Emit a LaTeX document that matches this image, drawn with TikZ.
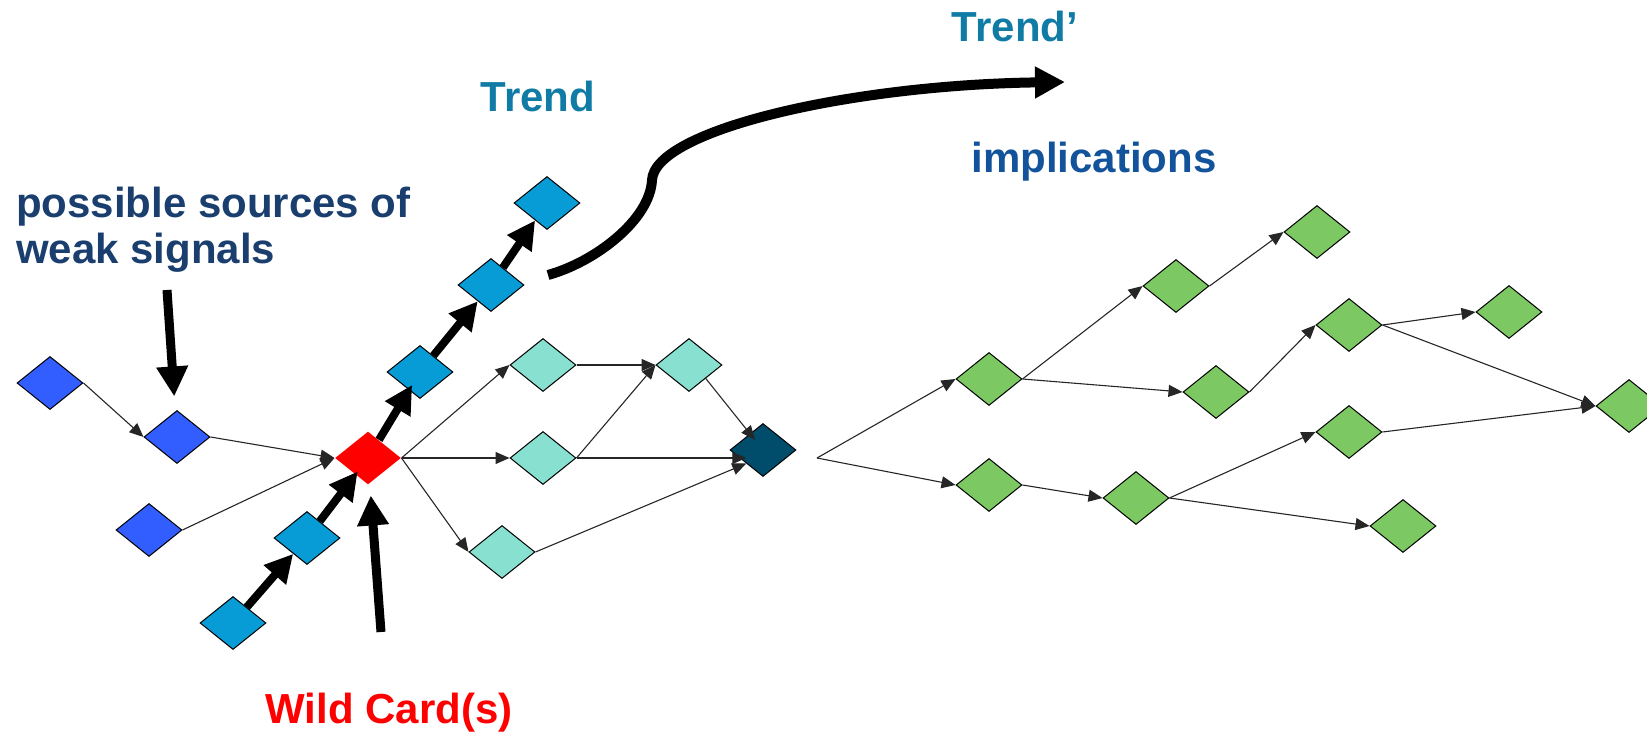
\documentclass[tikz,border=0pt]{standalone}
\usepackage{fontspec}
\setmainfont{Liberation Sans}
\usepackage{tikz}
\usetikzlibrary{calc}
\usetikzlibrary{arrows.meta}
\usetikzlibrary{shapes.geometric}
\definecolor{srcblue}{RGB}{51,94,255}
\definecolor{trendblue}{RGB}{8,156,214}
\definecolor{conseq}{RGB}{136,224,208}
\definecolor{darkend}{RGB}{0,77,107}
\definecolor{implgreen}{RGB}{124,200,98}
\definecolor{trendtext}{RGB}{16,124,166}
\definecolor{impltext}{RGB}{19,83,155}
\definecolor{srctext}{RGB}{26,63,111}
\tikzset{dia/.style={diamond,draw=black,line width=1pt,minimum width=66pt,minimum height=53pt,inner sep=0pt}}

\begin{document}
\begin{tikzpicture}[x=1pt,y=-1pt]
\tikzset{lnk/.style={draw=black!85,line width=1.1pt,-{Triangle[length=14pt,width=12pt]}}}
\tikzset{fat/.style={line width=8pt,-{Triangle[length=28pt,width=28pt]}}}
\tikzset{big/.style={line width=9pt,-{Triangle[length=30pt,width=30pt]}}}
\tikzset{lbl/.style={font=\fontsize{42}{46}\selectfont\bfseries,inner sep=0pt,anchor=base}}
\useasboundingbox (0,0) rectangle (1647,735);

% weak signal sources
\node[dia, fill=srcblue] (s1) at (50,383) {};
\node[dia, fill=srcblue] (s2) at (177,437) {};
\node[dia, fill=srcblue] (s3) at (149,530) {};

% wild card
\node[dia, fill=red, draw=none] (w) at (368,458) {};

% trend
\node[dia, fill=trendblue] (tr1) at (233,623) {};
\node[dia, fill=trendblue] (tr2) at (307,538) {};
\node[dia, fill=trendblue] (tr3) at (420,372) {};
\node[dia, fill=trendblue] (tr4) at (491,285) {};
\node[dia, fill=trendblue] (tr5) at (547,203) {};

% consequences
\node[dia, fill=conseq] (n1) at (543,365) {};
\node[dia, fill=conseq] (n2) at (689,365) {};
\node[dia, fill=conseq] (n3) at (543,458) {};
\node[dia, fill=conseq] (n4) at (502,552) {};
\node[dia, fill=darkend] (d) at (763,450) {};

% implications
\coordinate (br) at (817,458);
\node[dia, fill=implgreen] (g1) at (989,379) {};
\node[dia, fill=implgreen] (g2) at (989,485) {};
\node[dia, fill=implgreen] (g3) at (1176,286) {};
\node[dia, fill=implgreen] (g4) at (1216,392) {};
\node[dia, fill=implgreen] (g5) at (1317,232) {};
\node[dia, fill=implgreen] (g6) at (1349,325) {};
\node[dia, fill=implgreen] (g7) at (1349,432) {};
\node[dia, fill=implgreen] (g8) at (1136,498) {};
\node[dia, fill=implgreen] (g9) at (1509,312) {};
\node[dia, fill=implgreen] (g10) at (1629,406) {};
\node[dia, fill=implgreen] (g11) at (1403,526) {};

\draw[lnk] (s1.east) -- (s2.west);
\draw[lnk] (s2.east) -- (w.west);
\draw[lnk] (s3.east) -- (w.west);

\draw[lnk] (w.east) -- (n1.west);
\draw[lnk] (w.east) -- (n3.west);
\draw[lnk] (w.east) -- (n4.west);
\draw[lnk] (n1.east) -- (n2.west);
\draw[lnk] (n3.east) -- (n2.west);
\draw[lnk] (n3.east) -- (n3.east -| d.south west);
\draw[lnk] (n4.east) -- (d.south west);
\draw[lnk, shorten >=13pt] (n2.south east) -- (d.center);

\draw[lnk] (br) -- (g1.west);
\draw[lnk] (br) -- (g2.west);
\draw[lnk] (g1.east) -- (g3.west);
\draw[lnk] (g1.east) -- (g4.west);
\draw[lnk] (g3.east) -- (g5.west);
\draw[lnk] (g4.east) -- (g6.west);
\draw[lnk] (g6.east) -- (g9.west);
\draw[lnk] (g6.east) -- (g10.west);
\draw[lnk] (g7.east) -- (g10.west);
\draw[lnk] (g2.east) -- (g8.west);
\draw[lnk] (g8.east) -- (g7.west);
\draw[lnk] (g8.east) -- (g11.west);

\draw[fat] (tr1) -- (tr2);
\draw[fat, shorten >=-4pt] (tr2) -- (w);
\draw[fat, shorten >=-6pt] (w) -- (tr3);
\draw[fat] (tr3) -- (tr4);
\draw[fat] (tr4) -- (tr5);

\coordinate (wsfoot) at (167,290);
\coordinate (wcfoot) at (381,632);
\draw[big, shorten >=15pt] (wsfoot) -- (s2);
\draw[big, shorten >=12pt] (wcfoot) -- (w);

%\draw[big] (tr4) .. controls (600,250) .. (1065,82);
\coordinate (cstart) at (548,275);
\coordinate (cend) at (1065,82);
\draw[line width=10pt, -{Triangle[length=30pt,width=30pt]}] (cstart) .. controls (595,262) and (650,220) .. (652,180) .. controls (655,130) and (850,85) .. (cend);

\node[lbl, text=trendtext] (trend) at (538,112) {Trend};
\node[lbl, text=trendtext] (trendp) at (1015,42) {Trend’};
\node[lbl, text=impltext] (impl) at (1094,173) {implications};
\node[lbl, text=srctext, anchor=base west] (src1) at (16,218) {possible sources of};
\node[lbl, text=srctext, anchor=base west] (src2) at (16,264) {weak signals};
\node[lbl, text=red] (wild) at (389,723) {Wild Card(s)};
\end{tikzpicture}
\end{document}
